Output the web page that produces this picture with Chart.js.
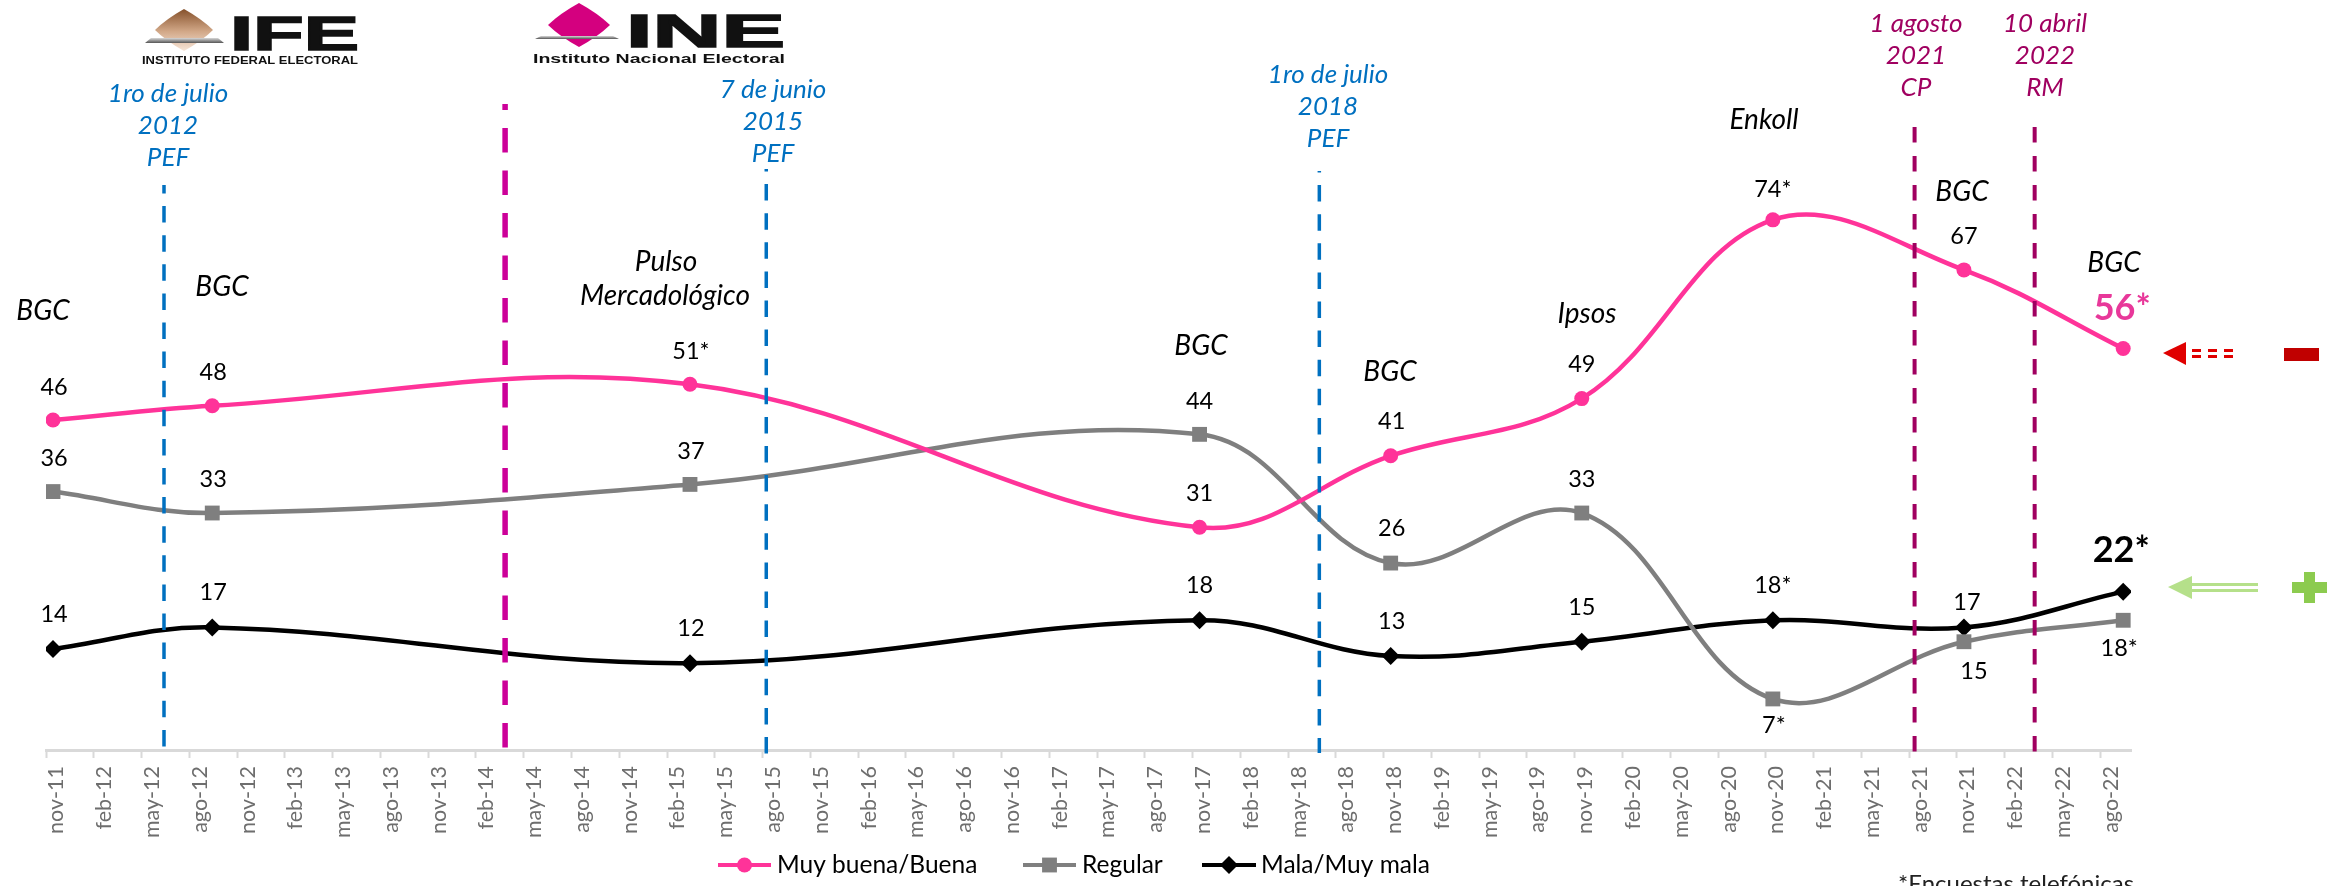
<!DOCTYPE html>
<html><head><meta charset="utf-8">
<style>html,body{margin:0;padding:0;background:#fff;overflow:hidden}canvas{display:block}</style>
<script src="https://cdn.jsdelivr.net/npm/chart.js@4"></script>
</head><body><canvas id="c" width="2331" height="886"></canvas>
<script>
const tickLabels=["nov-11","feb-12","may-12","ago-12","nov-12","feb-13","may-13","ago-13","nov-13","feb-14","may-14","ago-14","nov-14","feb-15","may-15","ago-15","nov-15","feb-16","may-16","ago-16","nov-16","feb-17","may-17","ago-17","nov-17","feb-18","may-18","ago-18","nov-18","feb-19","may-19","ago-19","nov-19","feb-20","may-20","ago-20","nov-20","feb-21","may-21","ago-21","nov-21","feb-22","may-22","ago-22"];
// months elapsed since nov-11 for each survey
const surveyMonths=[0,10,40,72,84,96,108,120,130];
const buenaValues=[46,48,51,31,41,49,74,67,56];
const regularValues=[36,33,37,44,26,33,7,15,18];
const malaValues=[14,17,12,18,13,15,18,17,22];
const buenaLabels=["46","48","51*","31","41","49","74*","67","56*"];
const regularLabels=["36","33","37","44","26","33","7*","15","18*"];
const malaLabels=["14","17","12","18","13","15","18*","17","22*"];
const seriesNames=["Muy buena/Buena","Regular","Mala/Muy mala"];
const seriesColors=["#FF3399","#7F7F7F","#000000"];
const pollsters=["BGC","BGC","Pulso","Mercadológico","BGC","BGC","Ipsos","Enkoll","BGC","BGC"];
const blueEvents=[["1ro de julio","2012","PEF"],["7 de junio","2015","PEF"],["1ro de julio","2018","PEF"]];
const purpleEvents=[["1 agosto","2021","CP"],["10 abril","2022","RM"]];
const footnote="*Encuestas telefónicas";

// ---- presentation only below ----
const buenaOff=[[1,-33],[1,-33],[1,-33],[0,-34],[1,-34],[0,-34],[0,-30],[0,-33],[-1,-40]];
const regularOff=[[1,-33],[1,-34],[1,-33],[0,-33],[1,-35],[0,-34],[1,26],[10,30],[-4,28]];
const malaOff=[[1,-34],[1,-35],[1,-35],[0,-35],[1,-35],[0,-34],[0,-35],[3,-25],[-2,-41]];
const vLines=[
 {m:6.97,top:185,color:"#0070C0",w:3.5,dash:[16.5,12.6],phase:8,ext:-2},
 {m:28.39,top:104,color:"#CC0099",w:5.5,dash:[24.5,18],phase:18.5,ext:-1},
 {m:44.79,top:169,color:"#0070C0",w:3.5,dash:[16.5,12.6],phase:14,ext:5},
 {m:79.52,top:171,color:"#0070C0",w:3.5,dash:[16.5,12.6],phase:15,ext:3},
 {m:116.9,top:127,color:"#A00060",w:4,dash:[15.5,13.5],phase:0,ext:3},
 {m:124.44,top:127,color:"#A00060",w:4,dash:[15.5,13.5],phase:0,ext:3}];
const FONT="Lato, 'Open Sans', sans-serif";
function T(ctx,s,x,y,font,color,align){ctx.font=font+" "+FONT;ctx.fillStyle=color;ctx.textAlign=align||"center";ctx.textBaseline="middle";ctx.fillText(s,x,y);}
function stretched(ctx,s,x,base,size,w,heavy){ctx.save();ctx.font="bold "+size+"px 'Liberation Sans'";const k=w/ctx.measureText(s).width;ctx.translate(x,base);ctx.scale(k,1);ctx.textAlign="left";ctx.textBaseline="alphabetic";ctx.fillStyle="#111";ctx.fillText(s,0,0);if(heavy){ctx.strokeStyle="#111";ctx.lineWidth=heavy;ctx.strokeText(s,0,0);}ctx.restore();}
function diamond(ctx,cx,cy,rx,ry,fill){ctx.fillStyle=fill;ctx.beginPath();ctx.moveTo(cx,cy-ry);ctx.quadraticCurveTo(cx+rx*.62,cy-ry*.52,cx+rx,cy);ctx.quadraticCurveTo(cx+rx*.62,cy+ry*.52,cx,cy+ry);ctx.quadraticCurveTo(cx-rx*.62,cy+ry*.52,cx-rx,cy);ctx.quadraticCurveTo(cx-rx*.62,cy-ry*.52,cx,cy-ry);ctx.fill();}
function slot(ctx,x0,x1,y0,y1){const g=ctx.createLinearGradient(0,y0,0,y1);g.addColorStop(0,"#d8d8d8");g.addColorStop(1,"#555");ctx.fillStyle=g;ctx.beginPath();ctx.moveTo(x0+6,y0);ctx.lineTo(x1-6,y0);ctx.lineTo(x1,y1);ctx.lineTo(x0,y1);ctx.fill();}

const overlay={id:"overlay",
 afterDatasetsDraw(chart){
  const ctx=chart.ctx,x=chart.scales.x,y=chart.scales.y;ctx.save();
  vLines.forEach(l=>{const px=x.getPixelForValue(l.m);ctx.strokeStyle=l.color;ctx.lineWidth=l.w;ctx.setLineDash(l.dash);ctx.lineDashOffset=l.phase;ctx.beginPath();ctx.moveTo(px,l.top);ctx.lineTo(px,chart.chartArea.bottom+l.ext);ctx.stroke();});
  ctx.setLineDash([]);ctx.lineDashOffset=0;
  [[buenaValues,buenaLabels,buenaOff],[regularValues,regularLabels,regularOff],[malaValues,malaLabels,malaOff]].forEach((s,k)=>{
   s[0].forEach((v,i)=>{const px=x.getPixelForValue(surveyMonths[i]),py=y.getPixelForValue(v);
    const last=i===8&&k!==1;
    T(ctx,s[1][i],px+s[2][i][0],py+s[2][i][1],last?"bold 36px":"23.5px",last?(k===0?"#E8389A":"#000"):"#000");});});
  [[43,311],[222,287],[666,262],[665,296],[1201,346],[1390,372],[1587,314],[1764,120],[1962,192],[2114,263]].forEach((p,i)=>T(ctx,pollsters[i],p[0],p[1],"italic 28px","#000"));
  [[168,94],[773,90],[1328,75]].forEach((p,i)=>blueEvents[i].forEach((s,j)=>T(ctx,s,p[0],p[1]+j*32,"italic 26px","#0070C0")));
  [[1916,24],[2045,24]].forEach((p,i)=>purpleEvents[i].forEach((s,j)=>T(ctx,s,p[0],p[1]+j*32,"italic 26px","#A00060")));
  const g=ctx.createLinearGradient(0,9,0,50);g.addColorStop(0,"#85502A");g.addColorStop(.55,"#D2A888");g.addColorStop(1,"#F5E3D5");
  diamond(ctx,184,30,29,21,g);slot(ctx,145,224,38,43);
  stretched(ctx,"IFE",230,50,48,129,1.5);stretched(ctx,"INSTITUTO FEDERAL ELECTORAL",142,64,11,216);
  diamond(ctx,579,25,31,22,"#D4007F");slot(ctx,535,619,36,39);
  stretched(ctx,"INE",626,47,47,159,1.5);stretched(ctx,"Instituto Nacional Electoral",533,63,13.5,252);
  ctx.fillStyle="#E00000";ctx.beginPath();ctx.moveTo(2163,353);ctx.lineTo(2186,342);ctx.lineTo(2186,365);ctx.fill();
  for(let i=0;i<3;i++){ctx.fillRect(2192+i*16,349,9,3);ctx.fillRect(2192+i*16,355,9,3);}
  ctx.fillStyle="#C00000";ctx.fillRect(2284,348,35,13);
  ctx.fillStyle="#B5E08A";ctx.beginPath();ctx.moveTo(2168,587);ctx.lineTo(2192,576);ctx.lineTo(2192,599);ctx.fill();
  ctx.fillRect(2192,583,66,3);ctx.fillRect(2192,589,66,3);
  ctx.fillStyle="#8CCB4F";ctx.fillRect(2292,582,35,11);ctx.fillRect(2304,572,11,31);
  [[718,771,777],[1023,1076,1082],[1202,1256,1261]].forEach((p,i)=>{
   const ds=chart.data.datasets[i],yy=865;
   ctx.strokeStyle=ds.borderColor;ctx.lineWidth=4;ctx.beginPath();ctx.moveTo(p[0],yy);ctx.lineTo(p[1],yy);ctx.stroke();
   ctx.fillStyle=ds.borderColor;ctx.lineWidth=0;
   Chart.helpers.drawPoint(ctx,{pointStyle:ds.pointStyle,radius:ds.pointRadius,borderWidth:0},(p[0]+p[1])/2,yy);
   T(ctx,seriesNames[i],p[2],yy,"24.5px","#000","left");});
  T(ctx,footnote,2016,884,"24px","#222");
  ctx.restore();
 }};
const pts=a=>a.map((v,i)=>({x:surveyMonths[i],y:v}));
new Chart(document.getElementById("c"),{
 type:"line",
 data:{datasets:[
  {label:seriesNames[0],data:pts(buenaValues),borderColor:seriesColors[0],backgroundColor:seriesColors[0],pointStyle:"circle",pointRadius:7.5},
  {label:seriesNames[1],data:pts(regularValues),borderColor:seriesColors[1],backgroundColor:seriesColors[1],pointStyle:"rect",pointRadius:10.5},
  {label:seriesNames[2],data:pts(malaValues),borderColor:seriesColors[2],backgroundColor:seriesColors[2],pointStyle:"rectRot",pointRadius:9}
 ].map(d=>Object.assign(d,{borderWidth:4.5,tension:.38,pointBorderWidth:0,fill:false}))},
 options:{responsive:false,animation:false,devicePixelRatio:1,
  layout:{autoPadding:false,padding:{left:46,right:200,top:0,bottom:0}},
  plugins:{legend:{display:false},tooltip:{enabled:false},title:{display:false}},
  scales:{
   x:{type:"linear",min:-0.44,max:130.49,
    afterBuildTicks(s){s.ticks=tickLabels.map((_,i)=>({value:i*3-0.44}));},
    afterFit(s){s.height=136;},
    grid:{drawOnChartArea:false,drawTicks:true,tickLength:8,tickColor:"#D9D9D9",tickWidth:2},
    border:{display:true,color:"#D9D9D9",width:3},
    ticks:{autoSkip:false,minRotation:90,maxRotation:90,labelOffset:10.5,padding:8,color:"#6E6E6E",font:{family:FONT,size:21.5},
     callback:(v,i)=>tickLabels[i]}},
   y:{display:false,min:-0.14,max:104.74}
  }},
 plugins:[overlay]});
</script></body></html>
